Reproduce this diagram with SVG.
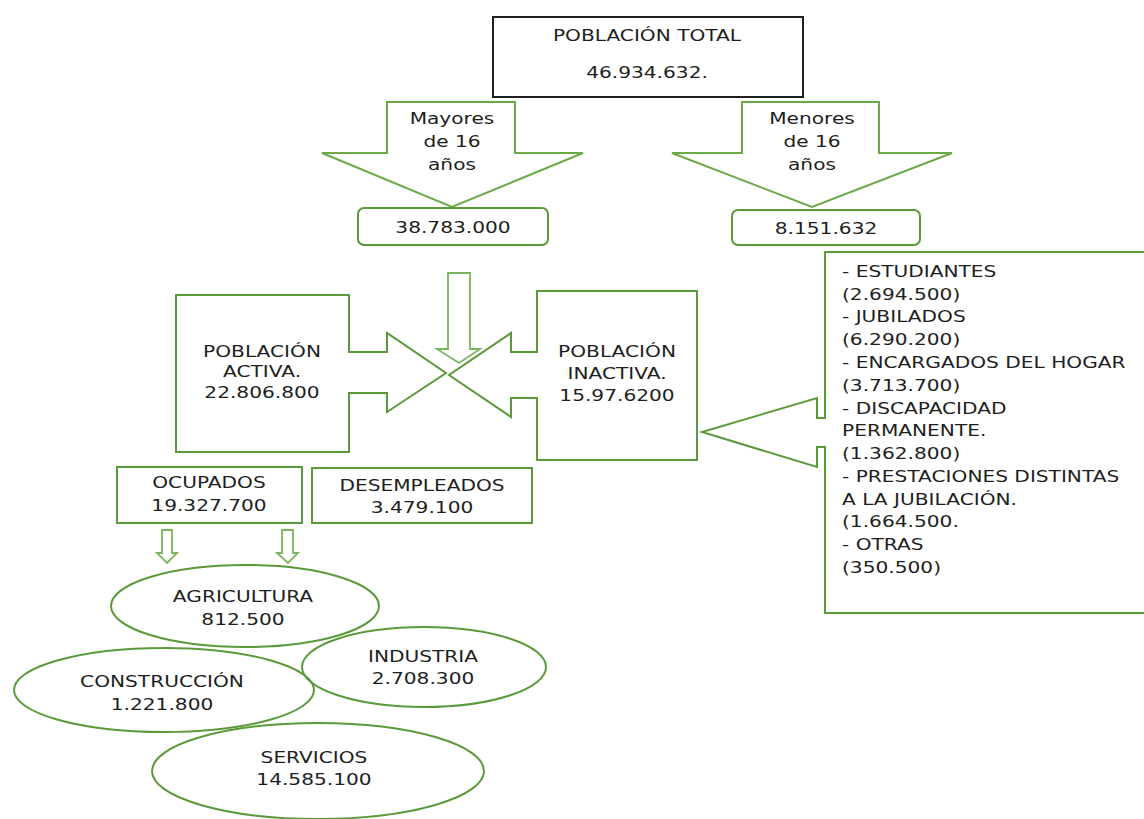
<svg xmlns="http://www.w3.org/2000/svg" width="1144" height="819" viewBox="0 0 1144 819">
<style>
.t{font-family:"DejaVu Sans","Liberation Sans",sans-serif;font-size:16px;fill:#1e1e1e}
.c{text-anchor:middle}
.g{fill:none;stroke:#5a9a3a;stroke-width:2;stroke-linejoin:miter}
.ga{fill:none;stroke:#6aab48;stroke-width:2;stroke-linejoin:miter}
.gl{fill:none;stroke:#7ab55c;stroke-width:1.8;stroke-linejoin:miter}
.k{fill:none;stroke:#1e1e1e;stroke-width:2}
</style>
<rect width="1144" height="819" fill="#ffffff"/>

<g id="connectors">
  <g id="arrow-mayores">
    <path class="ga" d="M387,102 H515 V153 H583 L452,207 L322,153 H387 Z"/>
    <text class="t c" transform="translate(452,124) scale(1.26,1)">Mayores</text>
    <text class="t c" transform="translate(452,147) scale(1.26,1)">de 16</text>
    <text class="t c" transform="translate(452,170) scale(1.26,1)">años</text>
  </g>
  <g id="arrow-menores">
    <path class="ga" d="M742,102 H879 V153 H952 L812,207 L672,153 H742 Z"/>
    <text class="t c" transform="translate(812,124) scale(1.26,1)">Menores</text>
    <text class="t c" transform="translate(812,147) scale(1.26,1)">de 16</text>
    <text class="t c" transform="translate(812,170) scale(1.26,1)">años</text>
  </g>
  <path id="arrow-central" class="gl" d="M448,273 H470 V349 H480 L459,363 L437,349 H448 Z"/>
  <path id="arrow-ocup-1" class="gl" d="M162,530 H172 V553 H177 L167,563 L157,553 H162 Z"/>
  <path id="arrow-ocup-2" class="gl" d="M282,530 H293 V553 H298 L288,563 L277,553 H282 Z"/>
</g>

<g id="poblacion-total">
  <rect class="k" x="493" y="17" width="310" height="80"/>
  <text class="t c" transform="translate(647,41) scale(1.26,1)">POBLACIÓN TOTAL</text>
  <text class="t c" transform="translate(647,78) scale(1.26,1)">46.934.632.</text>
</g>

<g id="mayores-valor">
  <rect class="g" x="358" y="208" width="190" height="37" rx="6"/>
  <text class="t c" transform="translate(453,233) scale(1.26,1)">38.783.000</text>
</g>

<g id="menores-valor">
  <rect class="g" x="732" y="210" width="188" height="35" rx="6"/>
  <text class="t c" transform="translate(826,234) scale(1.26,1)">8.151.632</text>
</g>

<g id="poblacion-activa">
  <path class="g" d="M176,295 H349 V352 H387 V333 L446,373 L387,412 V393 H349 V452 H176 Z"/>
  <text class="t c" transform="translate(262,357) scale(1.26,1)">POBLACIÓN</text>
  <text class="t c" transform="translate(262,377) scale(1.26,1)">ACTIVA.</text>
  <text class="t c" transform="translate(262,398) scale(1.26,1)">22.806.800</text>
</g>

<g id="poblacion-inactiva">
  <path class="g" d="M537,291 H697 V460 H537 V398 H511 V417 L449,375 L511,333 V352 H537 Z"/>
  <text class="t c" transform="translate(617,357) scale(1.26,1)">POBLACIÓN</text>
  <text class="t c" transform="translate(617,379) scale(1.26,1)">INACTIVA.</text>
  <text class="t c" transform="translate(617,401) scale(1.26,1)">15.97.6200</text>
</g>

<g id="inactivos-detalle">
  <path class="g" d="M825,252 H1150 V613 H825 V447 H817 V467 L702,432 L817,398 V418 H825 Z"/>
  <text class="t" transform="translate(842,277) scale(1.26,1)">- ESTUDIANTES</text>
  <text class="t" transform="translate(842,300) scale(1.26,1)">(2.694.500)</text>
  <text class="t" transform="translate(842,322) scale(1.26,1)">- JUBILADOS</text>
  <text class="t" transform="translate(842,345) scale(1.26,1)">(6.290.200)</text>
  <text class="t" transform="translate(842,368) scale(1.26,1)">- ENCARGADOS DEL HOGAR</text>
  <text class="t" transform="translate(842,391) scale(1.26,1)">(3.713.700)</text>
  <text class="t" transform="translate(842,414) scale(1.26,1)">- DISCAPACIDAD</text>
  <text class="t" transform="translate(842,436) scale(1.26,1)">PERMANENTE.</text>
  <text class="t" transform="translate(842,459) scale(1.26,1)">(1.362.800)</text>
  <text class="t" transform="translate(842,482) scale(1.26,1)">- PRESTACIONES DISTINTAS</text>
  <text class="t" transform="translate(842,505) scale(1.26,1)">A LA JUBILACIÓN.</text>
  <text class="t" transform="translate(842,527) scale(1.26,1)">(1.664.500.</text>
  <text class="t" transform="translate(842,550) scale(1.26,1)">- OTRAS</text>
  <text class="t" transform="translate(842,573) scale(1.26,1)">(350.500)</text>
</g>

<g id="ocupados">
  <rect class="g" x="117" y="467" width="185" height="56"/>
  <text class="t c" transform="translate(209,488) scale(1.26,1)">OCUPADOS</text>
  <text class="t c" transform="translate(209,511) scale(1.26,1)">19.327.700</text>
</g>

<g id="desempleados">
  <rect class="g" x="312" y="468" width="220" height="55"/>
  <text class="t c" transform="translate(422,491) scale(1.26,1)">DESEMPLEADOS</text>
  <text class="t c" transform="translate(422,513) scale(1.26,1)">3.479.100</text>
</g>

<g id="agricultura">
  <ellipse class="g" cx="245" cy="606" rx="134" ry="41"/>
  <text class="t c" transform="translate(243,602) scale(1.26,1)">AGRICULTURA</text>
  <text class="t c" transform="translate(243,625) scale(1.26,1)">812.500</text>
</g>

<g id="industria">
  <ellipse class="g" cx="424" cy="667" rx="122" ry="40"/>
  <text class="t c" transform="translate(423,662) scale(1.26,1)">INDUSTRIA</text>
  <text class="t c" transform="translate(423,684) scale(1.26,1)">2.708.300</text>
</g>

<g id="construccion">
  <ellipse class="g" cx="164" cy="690" rx="150" ry="42"/>
  <text class="t c" transform="translate(162,687) scale(1.26,1)">CONSTRUCCIÓN</text>
  <text class="t c" transform="translate(162,710) scale(1.26,1)">1.221.800</text>
</g>

<g id="servicios">
  <ellipse class="g" cx="318" cy="771" rx="166" ry="48"/>
  <text class="t c" transform="translate(314,763) scale(1.26,1)">SERVICIOS</text>
  <text class="t c" transform="translate(314,785) scale(1.26,1)">14.585.100</text>
</g>
</svg>
